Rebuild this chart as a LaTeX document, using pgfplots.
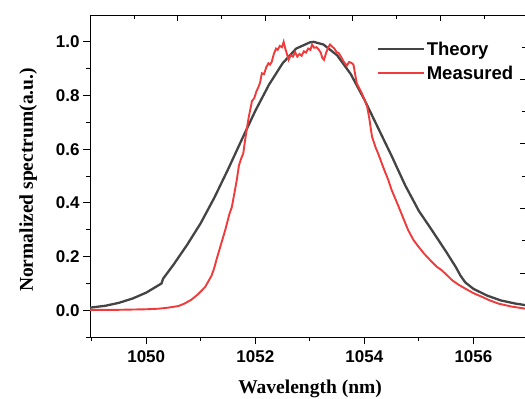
\documentclass[border=0pt]{standalone}
\usepackage{fontspec}
\setmainfont{Liberation Serif}
\setsansfont{Liberation Sans}
\usepackage{pgfplots}
\pgfplotsset{compat=1.18}
\definecolor{theorygray}{HTML}{444444}
\definecolor{measred}{HTML}{EF3B3B}
\begin{document}
\begin{tikzpicture}
\begin{axis}[
  scale only axis, width=435.5pt, height=322pt,
  xmin=1048.97, xmax=1056.96, ymin=-0.1, ymax=1.1,
  axis x line*=bottom, axis y line*=left,
  axis line style={line width=1pt, black},
  xtick={1050,1052,1054,1056}, minor xtick={1049,1051,1053,1055},
  ytick={0,0.2,0.4,0.6,0.8,1.0}, minor ytick={-0.1,0.1,0.3,0.5,0.7,0.9},
  yticklabel style={/pgf/number format/.cd, fixed, fixed zerofill, precision=1},
  xticklabel style={/pgf/number format/1000 sep={}, yshift=-3pt},
  /pgf/number format/assume math mode=true,
  tick align=outside, major tick length=7pt, minor tick length=4pt,
  every tick/.style={black, line width=1pt},
  ticklabel style={font=\sffamily\bfseries\fontsize{17}{20}\selectfont},
  xlabel={Wavelength (nm)}, ylabel={Normalized spectrum(a.u.)},
  label style={font=\rmfamily\bfseries\fontsize{19.5}{22}\selectfont},
  xlabel style={at={(axis description cs:0.505,0)}, anchor=base, yshift=-56pt},
  ylabel style={at={(axis description cs:-0.131,0.488)}, anchor=base},
  legend style={at={(0.65,0.93)}, anchor=north west, draw=none, fill=none,
    font=\sffamily\bfseries\fontsize{18.5}{22}\selectfont, row sep=5pt,
    /tikz/every even column/.append style={column sep=4pt}},
  legend cell align=left,
  legend image code/.code={\draw[#1] (0pt,0pt) -- (46pt,0pt);},
]
\addplot[theorygray, line width=2.3pt] coordinates {
(1048.97,0.010) (1049.25,0.017) (1049.5,0.028) (1049.75,0.044) (1050.0,0.066)
(1050.28,0.100) (1050.31,0.118) (1050.5,0.170) (1050.75,0.244) (1051.0,0.325)
(1051.25,0.420) (1051.5,0.525) (1051.75,0.635) (1052.0,0.743) (1052.25,0.840)
(1052.5,0.920) (1052.75,0.975) (1053.0,0.998) (1053.07,1.000) (1053.25,0.990)
(1053.5,0.950) (1053.75,0.880) (1054.0,0.785) (1054.25,0.680) (1054.5,0.575)
(1054.75,0.465) (1055.0,0.370) (1055.25,0.295) (1055.5,0.218) (1055.68,0.160)
(1055.76,0.130) (1055.85,0.104) (1056.0,0.080) (1056.25,0.055) (1056.5,0.037)
(1056.75,0.026) (1056.96,0.019)
};
\addlegendentry{Theory}
\addplot[measred, line width=1.9pt] coordinates {
(1048.97,0.002) (1049.5,0.002) (1050.0,0.004) (1050.22,0.006) (1050.4,0.010)
(1050.59,0.016) (1050.7,0.025) (1050.83,0.040) (1050.95,0.060) (1051.08,0.087)
(1051.2,0.130) (1051.25,0.160) (1051.29,0.190) (1051.37,0.245) (1051.45,0.300)
(1051.52,0.355) (1051.57,0.385) (1051.62,0.440) (1051.66,0.485) (1051.70,0.540)
(1051.74,0.565) (1051.78,0.585) (1051.81,0.630) (1051.84,0.670) (1051.88,0.720)
(1051.91,0.750) (1051.94,0.780) (1051.98,0.790) (1052.02,0.815) (1052.06,0.833)
(1052.09,0.850) (1052.12,0.883) (1052.16,0.880) (1052.20,0.905) (1052.24,0.920)
(1052.27,0.915) (1052.30,0.925) (1052.34,0.955) (1052.38,0.975) (1052.41,0.970)
(1052.45,0.985) (1052.49,0.980) (1052.52,1.000) (1052.55,0.975) (1052.58,0.955)
(1052.61,0.933) (1052.65,0.950) (1052.69,0.945) (1052.73,0.962) (1052.77,0.945)
(1052.81,0.955) (1052.85,0.948) (1052.89,0.965) (1052.93,0.960) (1052.97,0.975)
(1053.01,0.970) (1053.04,0.990) (1053.08,0.978) (1053.12,0.980) (1053.16,0.972)
(1053.20,0.960) (1053.23,0.940) (1053.26,0.933) (1053.30,0.960) (1053.34,0.980)
(1053.37,0.990) (1053.41,0.982) (1053.45,0.975) (1053.49,0.962) (1053.53,0.958)
(1053.57,0.945) (1053.61,0.930) (1053.65,0.918) (1053.68,0.912) (1053.72,0.925)
(1053.76,0.922) (1053.80,0.915) (1053.83,0.880) (1053.86,0.846) (1053.90,0.830)
(1053.95,0.810) (1054.00,0.785) (1054.05,0.760) (1054.09,0.715) (1054.14,0.647)
(1054.20,0.610) (1054.26,0.580) (1054.32,0.547) (1054.38,0.515) (1054.44,0.485)
(1054.50,0.448) (1054.60,0.400) (1054.70,0.350) (1054.80,0.300) (1054.90,0.262)
(1055.00,0.235) (1055.10,0.210) (1055.24,0.180) (1055.33,0.162) (1055.42,0.149)
(1055.52,0.130) (1055.61,0.112) (1055.73,0.095) (1055.85,0.081) (1056.00,0.064)
(1056.16,0.050) (1056.30,0.037) (1056.46,0.025) (1056.70,0.014) (1056.96,0.006)
};
\addlegendentry{Measured}
\end{axis}
\begin{axis}[
  scale only axis, width=435.5pt, height=322pt,
  xmin=0, xmax=435.5, ymin=0, ymax=322,
  axis x line*=top, axis y line*=right,
  axis line style={line width=1pt, black},
  xtick={87.7,175,262.7,350.3}, minor xtick={44,131.7,219,306.7,394.3},
  ytick={63.7,128.7,193.7,257.7}, minor ytick={97,160.3,225.3,289.3},
  xticklabels={}, yticklabels={},
  tick align=inside, major tick length=6pt, minor tick length=3.5pt,
  every tick/.style={black, line width=1pt},
]
\addplot[draw=none] coordinates {(0,0)};
\end{axis}
\pgfresetboundingbox
\path[use as bounding box] ([xshift=-90pt,yshift=-61pt]current axis.south west) rectangle ([xshift=-0.8pt,yshift=15pt]current axis.north east);
\end{tikzpicture}
\end{document}
